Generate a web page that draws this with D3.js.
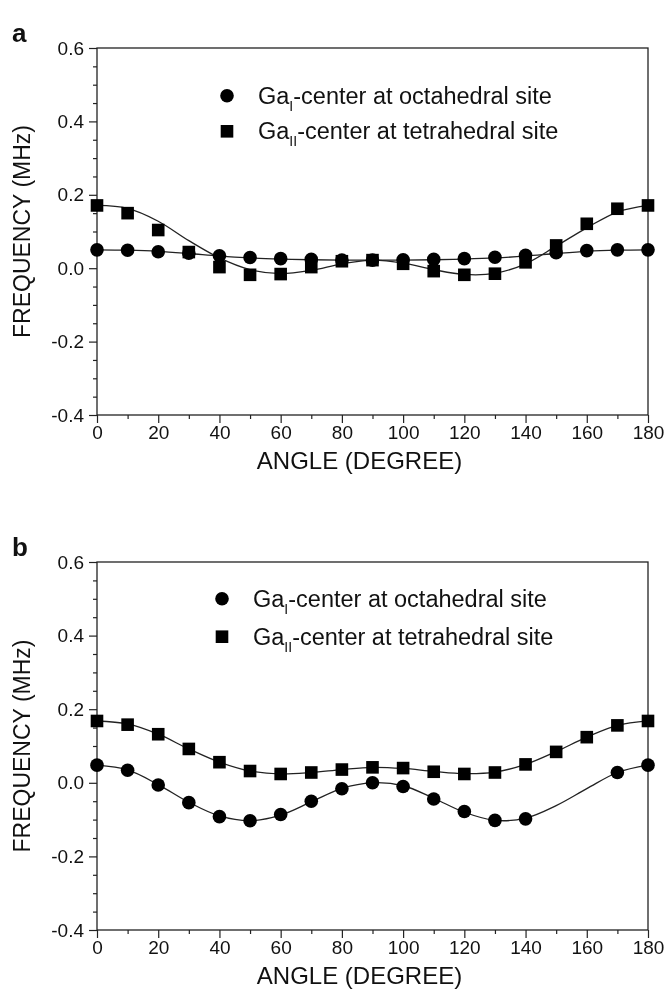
<!DOCTYPE html>
<html>
<head>
<meta charset="utf-8">
<script src="https://cdn.jsdelivr.net/npm/d3@7"></script>
<style>
  body { margin: 0; background: #fff; }
  svg { display: block; will-change: transform; }
  text { font-family: "Liberation Sans", Arial, sans-serif; fill: #111; }
</style>
</head>
<body>
<svg id="chart" width="665" height="989"></svg>
<script>
// angles (degree) at which the spectra were taken
const angles = [0, 10, 20, 30, 40, 50, 60, 70, 80, 90, 100, 110, 120, 130, 140, 150, 160, 170, 180];

// panel a
const octA = [0.050, 0.049, 0.045, 0.041, 0.034, 0.029, 0.026, 0.024, 0.022, 0.022, 0.023, 0.024, 0.026, 0.030, 0.035, 0.042, 0.048, 0.050, 0.050];
const tetA = [0.171, 0.150, 0.104, 0.044, 0.003, -0.018, -0.016, 0.003, 0.019, 0.022, 0.012, -0.008, -0.018, -0.015, 0.016, 0.062, 0.121, 0.162, 0.171];
const octFitA = [0.050, 0.049, 0.046, 0.040, 0.033, 0.028, 0.025, 0.023, 0.022, 0.022, 0.022, 0.023, 0.025, 0.028, 0.033, 0.040, 0.046, 0.049, 0.050];
const tetFitA = [0.171, 0.163, 0.128, 0.075, 0.028, -0.004, -0.015, -0.006, 0.012, 0.022, 0.014, -0.004, -0.017, -0.014, 0.012, 0.060, 0.110, 0.153, 0.171];

// panel b (no octahedral points at 150 and 160)
const octB = [0.048, 0.034, -0.006, -0.054, -0.092, -0.103, -0.086, -0.050, -0.016, 0.000, -0.010, -0.044, -0.078, -0.102, -0.098, null, null, 0.028, 0.048];
const tetB = [0.168, 0.158, 0.132, 0.092, 0.056, 0.032, 0.024, 0.028, 0.036, 0.042, 0.040, 0.030, 0.024, 0.028, 0.050, 0.084, 0.124, 0.156, 0.168];
const octFitB = [0.048, 0.035, -0.005, -0.053, -0.090, -0.103, -0.088, -0.052, -0.015, 0.000, -0.008, -0.042, -0.080, -0.102, -0.096, -0.062, -0.016, 0.028, 0.048];
const tetFitB = [0.168, 0.160, 0.132, 0.092, 0.056, 0.032, 0.024, 0.028, 0.036, 0.042, 0.039, 0.031, 0.025, 0.029, 0.050, 0.085, 0.124, 0.156, 0.168];

const xTicks = [0, 20, 40, 60, 80, 100, 120, 140, 160, 180];
const xMinor = [10, 30, 50, 70, 90, 110, 130, 150, 170];
const yTicks = [-0.4, -0.2, 0.0, 0.2, 0.4, 0.6];
const yMinor = [-0.35, -0.3, -0.25, -0.15, -0.1, -0.05, 0.05, 0.1, 0.15, 0.25, 0.3, 0.35, 0.45, 0.5, 0.55];
const legendNames = [
  { base: 'Ga', sub: 'I', rest: '-center at octahedral site' },
  { base: 'Ga', sub: 'II', rest: '-center at tetrahedral site' }
];

const svg = d3.select('#chart');
const left = 97, right = 648;

const panels = [
  { letter: 'a', top: 48, bottom: 415, oct: octA, tet: tetA, octFit: octFitA, tetFit: tetFitA, legX: 227, legY: [0.47, 0.373] },
  { letter: 'b', top: 562, bottom: 930, oct: octB, tet: tetB, octFit: octFitB, tetFit: tetFitB, legX: 222, legY: [0.50, 0.397] }
];

panels.forEach(drawPanel);

function drawPanel(p) {
  const x = d3.scaleLinear().domain([0, 180]).range([left, right]);
  const y = d3.scaleLinear().domain([-0.4, 0.6]).range([p.bottom, p.top]);
  const g = svg.append('g');

  // minor ticks first, then major with labels
  g.append('g').attr('transform', `translate(0,${p.bottom})`)
    .call(d3.axisBottom(x).tickValues(xMinor).tickSize(4).tickFormat(''));
  g.append('g').attr('transform', `translate(${left},0)`)
    .call(d3.axisLeft(y).tickValues(yMinor).tickSize(4).tickFormat(''));

  const xAxis = g.append('g').attr('transform', `translate(0,${p.bottom})`)
    .call(d3.axisBottom(x).tickValues(xTicks).tickSize(8).tickPadding(3).tickFormat(d3.format('d')));
  const yAxis = g.append('g').attr('transform', `translate(${left},0)`)
    .call(d3.axisLeft(y).tickValues(yTicks).tickSize(8).tickPadding(5).tickFormat((d) => d.toFixed(1)));

  g.selectAll('.domain').remove();
  g.selectAll('.tick line').attr('stroke', '#222').attr('stroke-width', 1.2);
  xAxis.selectAll('text').attr('font-size', 19).attr('fill', '#111');
  yAxis.selectAll('text').attr('font-size', 19).attr('fill', '#111');

  g.append('rect')
    .attr('x', left).attr('y', p.top)
    .attr('width', right - left).attr('height', p.bottom - p.top)
    .attr('fill', 'none').attr('stroke', '#222').attr('stroke-width', 1.3);

  // fitted curves
  const line = d3.line()
    .x((d, i) => x(angles[i]))
    .y((d) => y(d))
    .curve(d3.curveCatmullRom.alpha(0.5));
  [p.octFit, p.tetFit].forEach((fit) => {
    g.append('path').attr('d', line(fit))
      .attr('fill', 'none').attr('stroke', '#222').attr('stroke-width', 1.3);
  });

  // measured points
  g.append('g').selectAll('circle')
    .data(angles.map((a, i) => [a, p.oct[i]]).filter((d) => d[1] !== null))
    .join('circle')
    .attr('cx', (d) => x(d[0])).attr('cy', (d) => y(d[1])).attr('r', 6.8)
    .attr('fill', '#000');
  g.append('g').selectAll('rect')
    .data(angles.map((a, i) => [a, p.tet[i]]))
    .join('rect')
    .attr('x', (d) => x(d[0]) - 6.3).attr('y', (d) => y(d[1]) - 6.3)
    .attr('width', 12.6).attr('height', 12.6)
    .attr('fill', '#000');

  // legend
  legendNames.forEach((name, i) => {
    const ly = y(p.legY[i]);
    if (i === 0) {
      g.append('circle').attr('cx', p.legX).attr('cy', ly).attr('r', 6.8).attr('fill', '#000');
    } else {
      g.append('rect').attr('x', p.legX - 6.3).attr('y', ly - 6.3).attr('width', 12.6).attr('height', 12.6).attr('fill', '#000');
    }
    const t = g.append('text').attr('x', p.legX + 31).attr('y', ly + 8).attr('font-size', 23.5);
    t.append('tspan').text(name.base);
    t.append('tspan').attr('font-size', 14).attr('dy', 7).text(name.sub);
    t.append('tspan').attr('dy', -7).text(name.rest);
  });

  // axis titles and panel letter
  g.append('text')
    .attr('x', (left + right) / 2 - 13).attr('y', p.bottom + 54)
    .attr('text-anchor', 'middle').attr('font-size', 24)
    .text('ANGLE (DEGREE)');
  g.append('text')
    .attr('transform', `translate(30,${(p.top + p.bottom) / 2}) rotate(-90)`)
    .attr('text-anchor', 'middle').attr('font-size', 23)
    .text('FREQUENCY (MHz)');
  g.append('text')
    .attr('x', 12).attr('y', p.top - 6)
    .attr('font-size', 26).attr('font-weight', 'bold')
    .text(p.letter);
}
</script>
</body>
</html>
